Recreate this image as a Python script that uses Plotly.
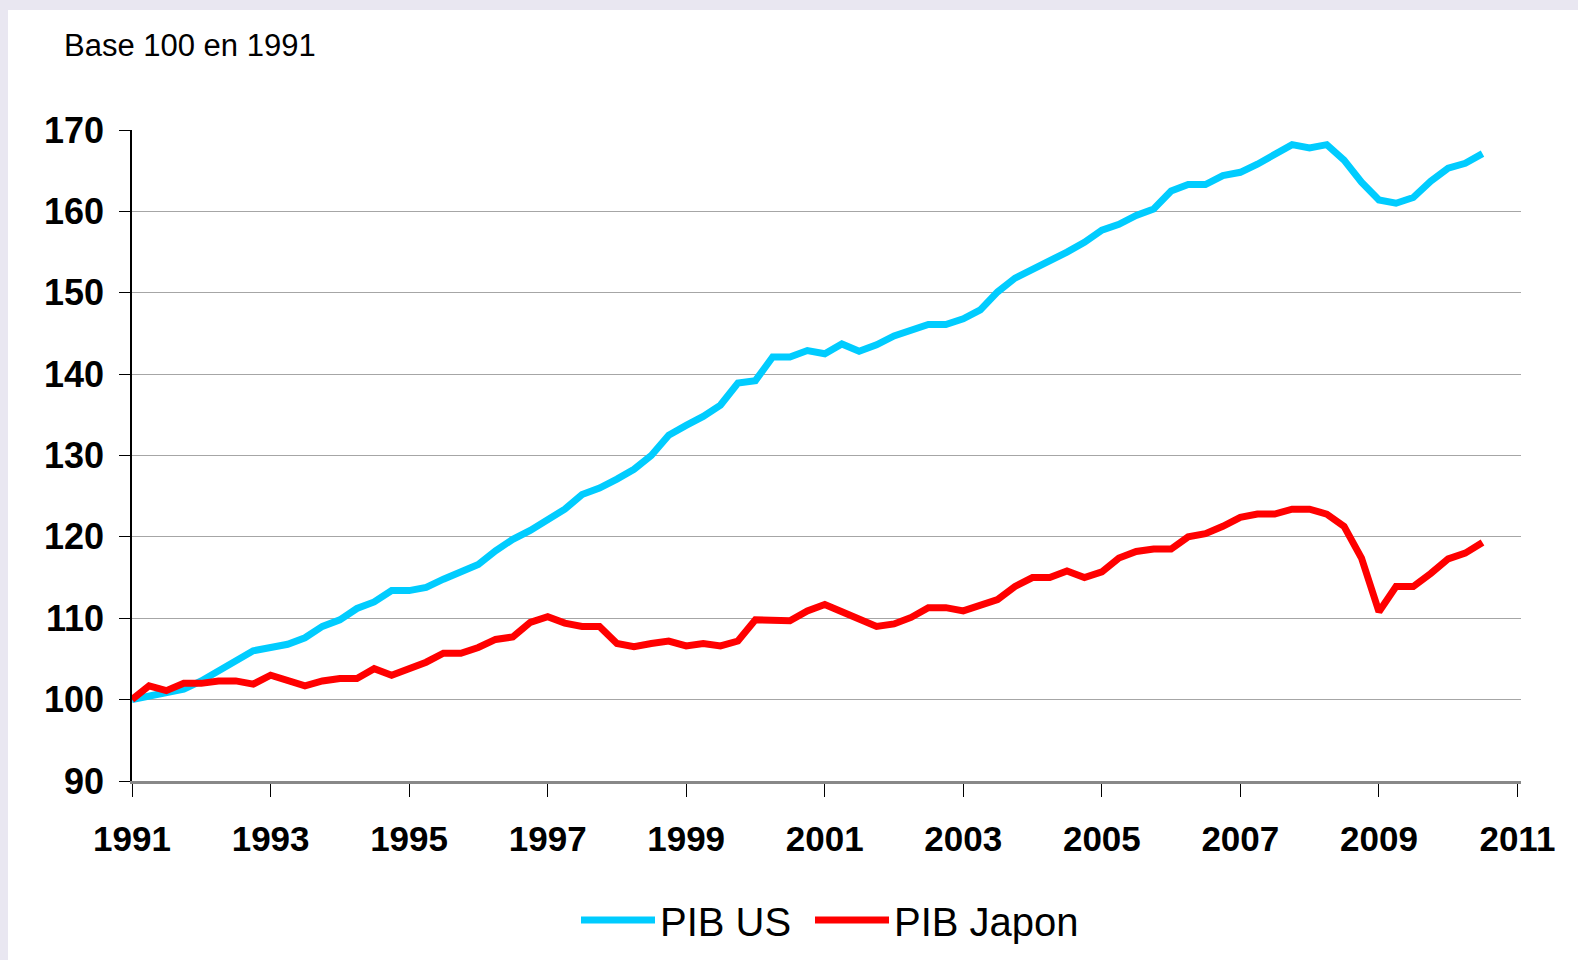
import pandas as pd
import plotly.graph_objects as go

# Quarterly dates 1991Q1 .. 2010Q3
quarters = pd.date_range(start="1991-01-01", periods=79, freq="QS")

pib_us = [
    100.0, 100.5, 100.9, 101.3, 102.3, 103.5, 104.8, 106.0,
    106.4, 106.8, 107.6, 109.0, 109.8, 111.2, 112.0, 113.4,
    113.4, 113.8, 114.8, 115.6, 116.6, 118.3, 119.7, 120.8,
    122.0, 123.4, 125.2, 126.0, 127.1, 128.3, 130.0, 132.5,
    133.7, 134.8, 136.2, 138.9, 139.2, 142.1, 142.1, 142.9,
    142.5, 143.7, 142.8, 143.6, 144.7, 145.5, 146.1, 146.1,
    146.8, 147.9, 150.1, 151.8, 152.8, 153.9, 155.0, 156.2,
    157.7, 158.4, 159.5, 160.3, 162.5, 163.3, 163.3, 164.4,
    164.8, 165.8, 166.9, 168.2, 167.8, 168.2, 166.3, 163.6,
    161.4, 161.0, 161.7, 163.7, 165.3, 165.9, 167.1,
]

pib_japon = [
    100.0, 101.7, 101.1, 102.0, 102.0, 102.3, 102.3, 101.9,
    103.0, 102.3, 101.7, 102.3, 102.6, 102.6, 103.8, 103.0,
    103.8, 104.6, 105.7, 105.7, 106.4, 107.4, 107.7, 109.5,
    110.2, 109.4, 109.0, 109.0, 106.9, 106.5, 106.9, 107.2,
    106.6, 106.9, 106.6, 107.2, 109.8, 109.8, 109.7, 110.9,
    111.7, 110.8, 109.8, 109.0, 109.3, 110.1, 111.3, 111.3,
    110.9, 111.6, 112.3, 113.9, 115.0, 115.0, 115.8, 115.0,
    115.7, 117.4, 118.2, 118.5, 118.5, 120.0, 120.4, 121.3,
    122.4, 122.8, 122.8, 123.4, 123.4, 122.8, 121.3, 117.4,
    110.8, 113.9, 113.9, 115.5, 117.3, 118.0, 119.3,
]

series_names = ["PIB US", "PIB Japon"]
series_colors = ["#00CCFF", "#FF0000"]
y_ticks = [90, 100, 110, 120, 130, 140, 150, 160, 170]
x_tick_years = ["1991", "1993", "1995", "1997", "1999", "2001",
                "2003", "2005", "2007", "2009", "2011"]
subtitle = "Base 100 en 1991"

FONT = "Liberation Sans, Arial, sans-serif"
BG = "#e9e7f1"

# L, R, T, B in px
L, R, T, B = 132, 57, 130, 179
W, H = 1578, 960
pw = W - L - R
ph = H - T - B

legend_ids = ["legend", "legend2"]
legend_left_px = [576, 810]

fig = go.Figure()
for name, vals, col, lg in zip(series_names, [pib_us, pib_japon],
                               series_colors, legend_ids):
    fig.add_trace(go.Scatter(
        x=quarters, y=vals, mode="lines", name=name,
        line=dict(color=col, width=7), legend=lg,
    ))

legend_common = dict(
    orientation="h", xanchor="left",
    y=(-(920 - (H - B)) / ph), yanchor="middle",
    font=dict(family=FONT, size=40, color="black"),
    itemwidth=74, bgcolor="rgba(0,0,0,0)", borderwidth=0,
)

fig.update_layout(
    width=W, height=H,
    margin=dict(l=L, r=R, t=T, b=B, autoexpand=False),
    paper_bgcolor=BG,
    plot_bgcolor="rgba(0,0,0,0)",
    font=dict(family=FONT, color="black"),
    showlegend=True,
    legend=dict(x=(legend_left_px[0] - L) / pw, **legend_common),
    legend2=dict(x=(legend_left_px[1] - L) / pw, **legend_common),
    shapes=[dict(
        type="rect", xref="paper", yref="paper", layer="below",
        x0=(8 - L) / pw, x1=(W + 5 - L) / pw,
        y0=-(H + 5 - (H - B)) / ph, y1=((H - B) - 10) / ph,
        fillcolor="white", line=dict(width=0),
    )],
    annotations=[dict(
        text=subtitle, xref="paper", yref="paper",
        x=(62 - L) / pw, y=((H - B) - 45) / ph,
        xanchor="left", yanchor="middle", showarrow=False,
        font=dict(family=FONT, size=31, color="black"),
    )],
)

fig.update_xaxes(
    type="date",
    range=["1991-01-01", "2011-01-20"],
    tickvals=[y + "-01-01" for y in x_tick_years],
    ticktext=x_tick_years,
    showgrid=False, zeroline=False,
    showline=True, linecolor="#888888", linewidth=3,
    ticks="outside", ticklen=13, tickcolor="black", tickwidth=1,
    tickfont=dict(family=FONT, size=35, color="black", weight="bold"),
    ticklabelstandoff=12,
)
fig.update_yaxes(
    range=[90, 170],
    tickvals=y_ticks,
    showgrid=True, gridcolor="#a6a6a6", gridwidth=1,
    zeroline=False,
    showline=True, linecolor="black", linewidth=1.5,
    ticks="outside", ticklen=11, tickcolor="black", tickwidth=1,
    tickfont=dict(family=FONT, size=36, color="black", weight="bold"),
    ticklabelstandoff=8,
)

fig.write_html(
    "out.html",
    config={"displayModeBar": False},
    post_script=(
        "document.body.style.margin='0';"
        "document.body.style.background='" + BG + "';"
    ),
)
